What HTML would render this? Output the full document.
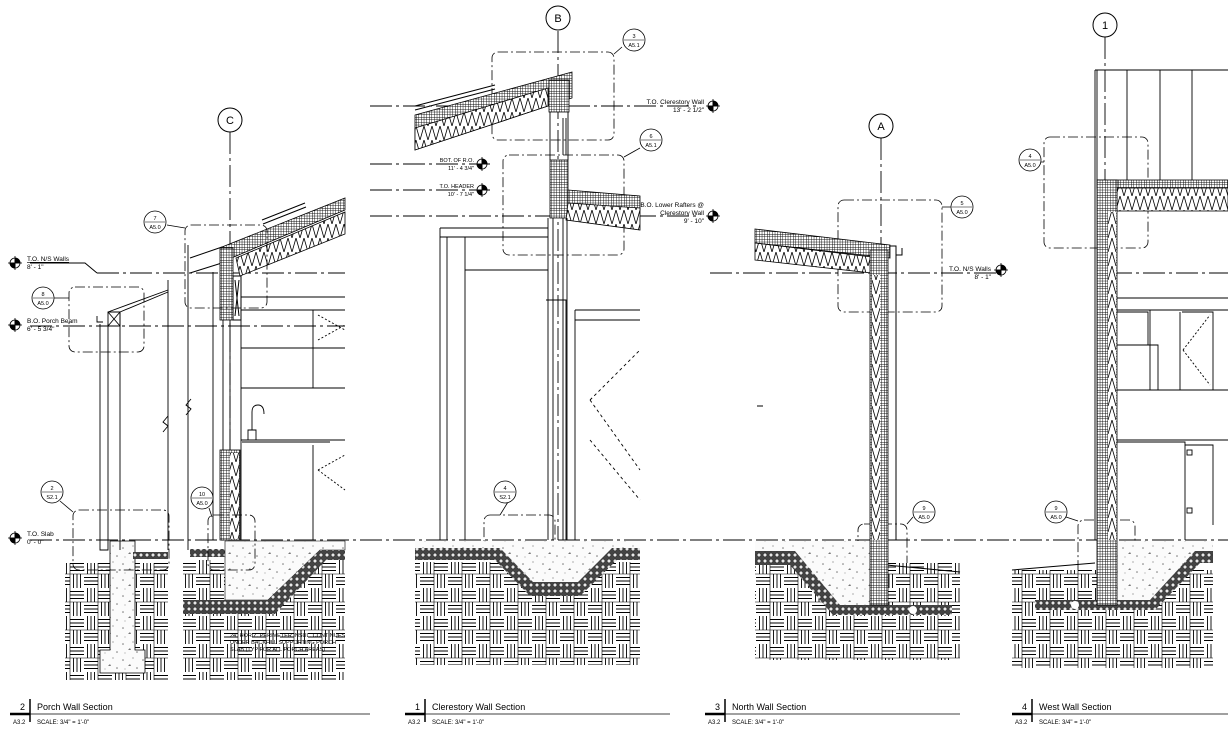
<!DOCTYPE html>
<html><head><meta charset="utf-8"><style>
html,body{margin:0;padding:0;background:#fff;}
svg{display:block;font-family:"Liberation Sans",sans-serif;}
</style></head><body>
<svg width="1228" height="747" viewBox="0 0 1228 747" xmlns="http://www.w3.org/2000/svg">
<defs>
<pattern id="weave" width="28" height="28" patternUnits="userSpaceOnUse">
<rect width="28" height="28" fill="#fff"/>
<g stroke="#000" stroke-width="0.9">
<path d="M3.5 0V14M7 0V14M10.5 0V14"/>
<path d="M14 3.5H28M14 7H28M14 10.5H28"/>
<path d="M0 17.5H14M0 21H14M0 24.5H14"/>
<path d="M17.5 14V28M21 14V28M24.5 14V28"/>
<path d="M0 14H28M14 0V28" stroke-width="0.6"/>
</g></pattern>
<pattern id="grav" width="6" height="6" patternUnits="userSpaceOnUse">
<rect width="6" height="6" fill="#444"/>
<circle cx="3" cy="3" r="2" fill="#e8e8e8" stroke="#000" stroke-width="0.5"/>
</pattern>
<pattern id="xh" width="2.6" height="2.6" patternUnits="userSpaceOnUse">
<rect width="2.6" height="2.6" fill="#fff"/>
<path d="M0 0H2.6M0 0V2.6" stroke="#000" stroke-width="0.9"/>
</pattern>
<pattern id="ins" width="8" height="14" patternUnits="userSpaceOnUse">
<rect width="8" height="14" fill="#fff"/>
<path d="M0 0 Q2 7 4 14 Q6 7 8 0" fill="none" stroke="#000" stroke-width="0.8"/>
</pattern>
<pattern id="conc" width="20" height="16" patternUnits="userSpaceOnUse">
<rect width="20" height="16" fill="#fbfbfb"/>
<g fill="#777"><circle cx="3" cy="4" r="0.8"/><circle cx="13" cy="2" r="0.6"/><path d="M8 10l2 -2l1 2z"/><circle cx="17" cy="12" r="0.8"/><circle cx="5" cy="13" r="0.5"/></g>
</pattern>
</defs>

<g fill="none" stroke="#000" stroke-width="1">
<g stroke-dasharray="22 4 3 4" stroke-width="0.9">
<path d="M30 540H1228"/>
<path d="M97 273H345M710 273H1000M1110 273H1228"/>
<path d="M30 326H345"/>
<path d="M370 106H700M370 164H490M370 190H490M370 216H700"/>
<path d="M230 132V540M558 31V540M881 138V540M1105 37V540"/>
</g>
<path d="M30 263H85L97 273"/>
</g>

<!-- ===== PORCH SECTION ===== -->
<rect x="65" y="563" width="103" height="117" fill="url(#weave)"/>
<rect x="183" y="560" width="162" height="120" fill="url(#weave)"/>
<path d="M110 541H135V650H145V673H100V650H110Z" fill="url(#conc)" stroke="#000" stroke-width="0.8"/>
<rect x="133" y="552" width="35" height="7" fill="url(#grav)"/>
<rect x="190" y="549" width="35" height="8" fill="url(#grav)"/>
<path d="M225 541H345V550H320L268 600H225Z" fill="url(#conc)" stroke="#000" stroke-width="0.6"/>
<path d="M183 600H268L320 550H345V560H326L275 614H183Z" fill="url(#grav)"/>
<g font-size="5.5" fill="#000"><text x="230" y="637">24" HORIZ. PERIMETER INSUL. CONTINUES</text><text x="230" y="644">UNDER BACKFILL SUPPORTING PORCH</text><text x="230" y="651">SLAB (TYP FOR ALL PORCH AREAS)</text></g>
<path d="M222 247L345 198V210L222 262Z" fill="url(#xh)" stroke="#000" stroke-width="0.8"/>
<path d="M236 258L345 212V234L240 276Z" fill="url(#ins)" stroke="#000" stroke-width="0.8"/>
<path d="M262 220L305 203M263 224L306 207" stroke="#000" stroke-width="1"/>
<path d="M190 258L222 247M190 273L225 262" stroke="#000"/>
<rect x="220" y="248" width="13" height="72" fill="url(#xh)" stroke="#000" stroke-width="0.8"/>
<rect x="233" y="276" width="8" height="44" fill="#fff" stroke="#000"/>
<path d="M235 280L239 316M239 280L235 316" stroke="#000"/>
<rect x="220" y="450" width="20" height="90" fill="url(#xh)" stroke="#000" stroke-width="0.8"/>
<rect x="230" y="453" width="9" height="86" fill="url(#ins)"/>
<g fill="none" stroke="#000" stroke-width="0.9">
<path d="M223 320V450M230 320V450M241 276V540M213 272V540"/>
<path d="M241 297H345M241 310H345M241 348H345M241 388H345M241 440H345"/>
<path d="M313 310V388H345M313 445V540M242 442H330"/>
<path d="M248 440V430H256V440M252 430V412Q252 405 258 405Q264 405 264 414"/>
<path d="M318 315L345 330M318 340L345 325M318 470L345 455M318 470L345 490" stroke-dasharray="2 2"/>
<path d="M100 324V550H108V324M108 312H120V550M120 312L168 292M108 312L168 290"/>
<rect x="108" y="312" width="12" height="14"/>
<path d="M108 312L120 326M120 312L108 326"/>
<path d="M97 316V322H103"/>
<path d="M168 280V550M188 245V550"/>
<path d="M163 432L168 426L163 422L168 416"/>
<path d="M186 415L191 409L186 405L191 399"/>
</g>
<g fill="none" stroke="#000" stroke-width="0.8" stroke-dasharray="10 3 2 3">
<rect x="185" y="225" width="82" height="83" rx="6"/>
<rect x="69" y="287" width="75" height="65" rx="6"/>
<rect x="73" y="510" width="96" height="60" rx="6"/>
<rect x="208" y="515" width="47" height="55" rx="6"/>
<rect x="492" y="52" width="122" height="88" rx="6"/>
<rect x="503" y="155" width="121" height="100" rx="6"/>
<rect x="484" y="515" width="71" height="55" rx="6"/>
<rect x="838" y="200" width="104" height="112" rx="6"/>
<rect x="858" y="524" width="49" height="52" rx="6"/>
<rect x="1044" y="137" width="104" height="111" rx="6"/>
<rect x="1078" y="520" width="57" height="56" rx="6"/>
</g>
<g fill="none" stroke="#000" stroke-width="0.8">
<path d="M167 225L185 228M54 298H69M60 501L73 512M209 508L212 517M622 47L614 54M640 148L624 157M508 502L500 515M952 207H942M913 517L907 524M1040 162H1044M1066 517L1078 521"/>
</g>
<g font-size="5.5" text-anchor="middle">
<g><circle cx="155" cy="222" r="11" fill="#fff" stroke="#000" stroke-width="0.8"/><path d="M145 222H165" stroke="#000" stroke-width="0.6"/><text x="155" y="220">7</text><text x="155" y="229">A5.0</text></g>
<g><circle cx="43" cy="298" r="11" fill="#fff" stroke="#000" stroke-width="0.8"/><path d="M33 298H53" stroke="#000" stroke-width="0.6"/><text x="43" y="296">8</text><text x="43" y="305">A5.0</text></g>
<g><circle cx="52" cy="492" r="11" fill="#fff" stroke="#000" stroke-width="0.8"/><path d="M42 492H62" stroke="#000" stroke-width="0.6"/><text x="52" y="490">2</text><text x="52" y="499">S2.1</text></g>
<g><circle cx="202" cy="498" r="11" fill="#fff" stroke="#000" stroke-width="0.8"/><path d="M192 498H212" stroke="#000" stroke-width="0.6"/><text x="202" y="496">10</text><text x="202" y="505">A5.0</text></g>
<g><circle cx="634" cy="40" r="11" fill="#fff" stroke="#000" stroke-width="0.8"/><path d="M624 40H644" stroke="#000" stroke-width="0.6"/><text x="634" y="38">3</text><text x="634" y="47">A5.1</text></g>
<g><circle cx="651" cy="140" r="11" fill="#fff" stroke="#000" stroke-width="0.8"/><path d="M641 140H661" stroke="#000" stroke-width="0.6"/><text x="651" y="138">6</text><text x="651" y="147">A5.1</text></g>
<g><circle cx="505" cy="492" r="11" fill="#fff" stroke="#000" stroke-width="0.8"/><path d="M495 492H515" stroke="#000" stroke-width="0.6"/><text x="505" y="490">4</text><text x="505" y="499">S2.1</text></g>
<g><circle cx="962" cy="207" r="11" fill="#fff" stroke="#000" stroke-width="0.8"/><path d="M952 207H972" stroke="#000" stroke-width="0.6"/><text x="962" y="205">5</text><text x="962" y="214">A5.0</text></g>
<g><circle cx="924" cy="512" r="11" fill="#fff" stroke="#000" stroke-width="0.8"/><path d="M914 512H934" stroke="#000" stroke-width="0.6"/><text x="924" y="510">9</text><text x="924" y="519">A5.0</text></g>
<g><circle cx="1030" cy="160" r="11" fill="#fff" stroke="#000" stroke-width="0.8"/><path d="M1020 160H1040" stroke="#000" stroke-width="0.6"/><text x="1030" y="158">4</text><text x="1030" y="167">A5.0</text></g>
<g><circle cx="1056" cy="512" r="11" fill="#fff" stroke="#000" stroke-width="0.8"/><path d="M1046 512H1066" stroke="#000" stroke-width="0.6"/><text x="1056" y="510">9</text><text x="1056" y="519">A5.0</text></g>
</g>
<g font-size="11" text-anchor="middle">
<circle cx="230" cy="120" r="12" fill="#fff" stroke="#000"/><text x="230" y="124">C</text>
<circle cx="558" cy="18" r="12" fill="#fff" stroke="#000"/><text x="558" y="22">B</text>
<circle cx="881" cy="126" r="12" fill="#fff" stroke="#000"/><text x="881" y="130">A</text>
<circle cx="1105" cy="25" r="12" fill="#fff" stroke="#000"/><text x="1105" y="29">1</text>
</g>
<g stroke="#000" stroke-width="0.8">
<g><circle cx="15" cy="263" r="5" fill="#fff"/><path d="M15 258A5 5 0 0 1 20 263H15ZM15 268A5 5 0 0 1 10 263H15Z" fill="#000"/><path d="M8 263H22M15 256V270"/></g>
<g><circle cx="15" cy="325" r="5" fill="#fff"/><path d="M15 320A5 5 0 0 1 20 325H15ZM15 330A5 5 0 0 1 10 325H15Z" fill="#000"/><path d="M8 325H22M15 318V332"/></g>
<g><circle cx="15" cy="538" r="5" fill="#fff"/><path d="M15 533A5 5 0 0 1 20 538H15ZM15 543A5 5 0 0 1 10 538H15Z" fill="#000"/><path d="M8 538H22M15 531V545"/></g>
<g><circle cx="713" cy="106" r="5" fill="#fff"/><path d="M713 101A5 5 0 0 1 718 106H713ZM713 111A5 5 0 0 1 708 106H713Z" fill="#000"/><path d="M706 106H720M713 99V113"/></g>
<g><circle cx="482" cy="164" r="5" fill="#fff"/><path d="M482 159A5 5 0 0 1 487 164H482ZM482 169A5 5 0 0 1 477 164H482Z" fill="#000"/><path d="M475 164H489M482 157V171"/></g>
<g><circle cx="482" cy="190" r="5" fill="#fff"/><path d="M482 185A5 5 0 0 1 487 190H482ZM482 195A5 5 0 0 1 477 190H482Z" fill="#000"/><path d="M475 190H489M482 183V197"/></g>
<g><circle cx="713" cy="216" r="5" fill="#fff"/><path d="M713 211A5 5 0 0 1 718 216H713ZM713 221A5 5 0 0 1 708 216H713Z" fill="#000"/><path d="M706 216H720M713 209V223"/></g>
<g><circle cx="1001" cy="270" r="5" fill="#fff"/><path d="M1001 265A5 5 0 0 1 1006 270H1001ZM1001 275A5 5 0 0 1 996 270H1001Z" fill="#000"/><path d="M994 270H1008M1001 263V277"/></g>
</g>
<g font-size="6.5" fill="#000">
<text x="27" y="261" text-decoration="underline">T.O. N/S Walls</text><text x="27" y="269">8' - 1"</text>
<text x="27" y="323">B.O. Porch Beam</text><text x="27" y="331">6' - 5 3/4"</text>
<text x="27" y="536">T.O. Slab</text><text x="27" y="544">0' - 0"</text>
<g text-anchor="end">
<text x="704" y="104">T.O. Clerestory Wall</text><text x="704" y="112">13' - 2 1/2"</text>
<text x="474" y="162" font-size="5.5">BOT. OF R.O.</text><text x="474" y="170" font-size="5.5">11' - 4 3/4"</text>
<text x="474" y="188" font-size="5.5">T.O. HEADER</text><text x="474" y="196" font-size="5.5">10' - 7 1/4"</text>
<text x="704" y="207">B.O. Lower Rafters @</text><text x="704" y="215">Clerestory Wall</text><text x="704" y="223">9' - 10"</text>
<text x="991" y="271">T.O. N/S Walls</text><text x="991" y="279">8' - 1"</text>
</g>
</g>

<!-- ===== CLERESTORY ===== -->
<rect x="415" y="562" width="225" height="103" fill="url(#weave)"/>
<path d="M415 541H640V550H612L578 584H533L500 550H415Z" fill="url(#conc)"/>
<path d="M415 548H500L533 582H578L612 548H640V560H617L580 596H530L495 560H415Z" fill="url(#grav)"/>
<path d="M415 115L572 72V98L548 106L415 150Z" fill="url(#xh)" stroke="#000" stroke-width="0.8"/>
<path d="M415 128L548 88V106L415 150Z" fill="url(#ins)" stroke="#000" stroke-width="0.8"/>
<path d="M415 106L495 85M415 110L495 89" stroke="#000" stroke-width="1"/>
<rect x="549" y="80" width="20" height="32" fill="url(#xh)" stroke="#000" stroke-width="0.8"/>
<rect x="550" y="160" width="18" height="58" fill="url(#xh)" stroke="#000" stroke-width="0.8"/>
<path d="M568 190L640 196V210L568 205Z" fill="url(#xh)" stroke="#000" stroke-width="0.8"/>
<path d="M568 203L640 208V230L566 220Z" fill="url(#ins)" stroke="#000" stroke-width="0.8"/>
<g fill="none" stroke="#000" stroke-width="0.9">
<path d="M550 112V160M568 112V160M563 118V155M566 118V155"/>
<path d="M548 218V540M553 218V540M563 218V540M567 218V540"/>
<path d="M546 300H566V540"/>
<path d="M440 228H548M440 237H548M440 228V540M447 237V540M465 237V540M465 270H548"/>
<path d="M575 310H640M575 320H640M575 310V540"/>
<path d="M590 400L640 350M590 400L640 470M590 440L640 500" stroke-dasharray="3 3"/>
</g>

<!-- ===== NORTH ===== -->
<rect x="755" y="563" width="205" height="97" fill="url(#weave)"/>
<path d="M755 541H887V605H840L795 560H755Z" fill="url(#conc)"/>
<path d="M755 551H795L840 605H952V615H833L790 565H755Z" fill="url(#grav)"/>
<path d="M887 565L960 572" stroke="#000"/>
<circle cx="913" cy="610" r="4" fill="#fff"/>
<path d="M755 229L890 245V258L755 243Z" fill="url(#xh)" stroke="#000" stroke-width="0.8"/>
<path d="M755 243L872 257V273L755 260Z" fill="url(#ins)" stroke="#000" stroke-width="0.8"/>
<rect x="870" y="250" width="18" height="355" fill="url(#xh)" stroke="#000" stroke-width="0.8"/>
<rect x="872" y="275" width="8" height="265" fill="url(#ins)"/>
<g fill="none" stroke="#000"><path d="M896 250V540M890 246H896V252M896 255H902V248"/><path d="M757 406H763"/></g>

<!-- ===== WEST ===== -->
<rect x="1012" y="570" width="201" height="98" fill="url(#weave)"/>
<path d="M1012 570L1095 563" stroke="#000"/>
<path d="M1097 541H1213V555H1195L1150 600H1097Z" fill="url(#conc)"/>
<path d="M1035 600H1150L1195 551H1213V563H1200L1155 610H1035Z" fill="url(#grav)"/>
<circle cx="1075" cy="605" r="4" fill="#fff"/>
<g fill="none" stroke="#000" stroke-width="0.9">
<path d="M1095 70H1228M1127 70V180M1160 70V180M1192 70V180M1095 70V540M1097 70V180"/>
</g>
<rect x="1097" y="180" width="131" height="8" fill="url(#xh)" stroke="#000" stroke-width="0.8"/>
<rect x="1117" y="188" width="111" height="23" fill="url(#ins)" stroke="#000" stroke-width="0.8"/>
<rect x="1097" y="180" width="20" height="425" fill="url(#xh)" stroke="#000" stroke-width="0.8"/>
<rect x="1108" y="212" width="8" height="328" fill="url(#ins)"/>
<g fill="none" stroke="#000" stroke-width="0.9">
<path d="M1117 298H1228M1117 310H1228M1117 390H1228M1117 440H1228"/>
<path d="M1117 312H1148V345H1117M1148 345H1158V390M1150 310V390M1180 312V390M1182 312H1213V390"/>
<path d="M1183 350L1210 315M1183 350L1210 385" stroke-dasharray="2 2"/>
<path d="M1117 442H1185V540M1185 445H1213V525"/>
<rect x="1187" y="450" width="5" height="5"/><rect x="1187" y="508" width="5" height="5"/>
</g>

<!-- ===== TITLE BLOCKS ===== -->
<g font-size="9" fill="#000">
<g><text x="25" y="710" text-anchor="end">2</text><path d="M30 699V722" stroke="#000" stroke-width="1.5"/><text x="37" y="710">Porch Wall Section</text><path d="M10 714H30" stroke="#000" stroke-width="2.5"/><path d="M30 714H370" stroke="#000" stroke-width="0.8"/><text x="13" y="724" font-size="6">A3.2</text><text x="37" y="724" font-size="6">SCALE:  3/4" = 1'-0"</text></g>
<g><text x="420" y="710" text-anchor="end">1</text><path d="M425 699V722" stroke="#000" stroke-width="1.5"/><text x="432" y="710">Clerestory Wall Section</text><path d="M405 714H425" stroke="#000" stroke-width="2.5"/><path d="M425 714H670" stroke="#000" stroke-width="0.8"/><text x="408" y="724" font-size="6">A3.2</text><text x="432" y="724" font-size="6">SCALE:  3/4" = 1'-0"</text></g>
<g><text x="720" y="710" text-anchor="end">3</text><path d="M725 699V722" stroke="#000" stroke-width="1.5"/><text x="732" y="710">North Wall Section</text><path d="M705 714H725" stroke="#000" stroke-width="2.5"/><path d="M725 714H960" stroke="#000" stroke-width="0.8"/><text x="708" y="724" font-size="6">A3.2</text><text x="732" y="724" font-size="6">SCALE:  3/4" = 1'-0"</text></g>
<g><text x="1027" y="710" text-anchor="end">4</text><path d="M1032 699V722" stroke="#000" stroke-width="1.5"/><text x="1039" y="710">West Wall Section</text><path d="M1012 714H1032" stroke="#000" stroke-width="2.5"/><path d="M1032 714H1228" stroke="#000" stroke-width="0.8"/><text x="1015" y="724" font-size="6">A3.2</text><text x="1039" y="724" font-size="6">SCALE:  3/4" = 1'-0"</text></g>
</g>
</svg>
</body></html>
